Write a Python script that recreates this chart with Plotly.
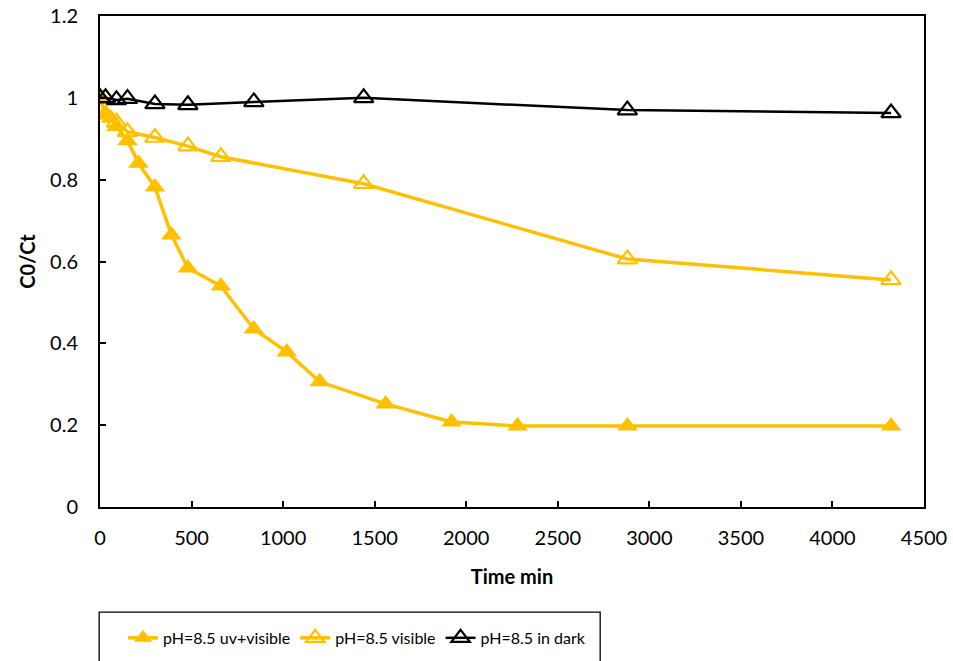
import plotly.graph_objects as go

# Data
t_uv = [0, 30, 60, 90, 150, 210, 300, 390, 480, 660, 840, 1020, 1200, 1560, 1920, 2280, 2880, 4320]
c_uv = [1.0, 0.96, 0.95, 0.93, 0.895, 0.84, 0.782, 0.665, 0.584, 0.54, 0.435, 0.379, 0.306, 0.252, 0.208, 0.198, 0.198, 0.198]

t_vis = [0, 30, 90, 150, 300, 480, 660, 1440, 2880, 4320]
c_vis = [1.0, 0.96, 0.94, 0.917, 0.903, 0.882, 0.856, 0.79, 0.606, 0.555]

t_dark = [0, 30, 90, 150, 300, 480, 840, 1440, 2880, 4320]
c_dark = [1.0, 1.0, 0.995, 0.998, 0.985, 0.983, 0.99, 1.0, 0.97, 0.963]

names = ["pH=8.5 uv+visible", "pH=8.5 visible", "pH=8.5 in dark"]
x_ticks = list(range(0, 4501, 500))
y_ticks = [0, 0.2, 0.4, 0.6, 0.8, 1, 1.2]

YEL = "#FFC000"
FONT = "Lato"

fig = go.Figure()
fig.add_trace(go.Scatter(x=t_uv, y=c_uv, name=names[0], mode="lines+markers",
                         line=dict(color=YEL, width=3.5),
                         marker=dict(symbol="triangle-up", size=18, color=YEL)))
fig.add_trace(go.Scatter(x=t_vis, y=c_vis, name=names[1], mode="lines+markers",
                         line=dict(color=YEL, width=3.5),
                         marker=dict(symbol="triangle-up-open", size=17, color=YEL,
                                     line=dict(color=YEL, width=2.2))))
fig.add_trace(go.Scatter(x=t_dark, y=c_dark, name=names[2], mode="lines+markers",
                         line=dict(color="black", width=2.5),
                         marker=dict(symbol="triangle-up-open", size=17, color="black",
                                     line=dict(color="black", width=2.2))))

fig.update_layout(
    width=953, height=661,
    margin=dict(l=100, r=29, t=16, b=154, autoexpand=False),
    plot_bgcolor="white", paper_bgcolor="white",
    font=dict(family=FONT, size=20, color="black"),
    showlegend=True,
    legend=dict(orientation="h", x=0.028, xanchor="left", y=-0.232, yanchor="top",
                font=dict(family=FONT, size=16),
                bgcolor="rgba(0,0,0,0)", borderwidth=0, itemwidth=30,
                tracegroupgap=0),
    shapes=[dict(type="rect", xref="paper", yref="paper",
                 x0=-0.001, x1=0.607, y0=-0.214, y1=-0.40,
                 line=dict(color="black", width=1.3), fillcolor="rgba(0,0,0,0)")],
)
fig.update_xaxes(range=[0, 4500], tickvals=x_ticks, ticks="inside", ticklen=6,
                 tickwidth=1.5, tickcolor="black", showline=True, linecolor="black",
                 linewidth=2, mirror=True, showgrid=False, zeroline=False,
                 ticklabelstandoff=12,
                 title=dict(text="<b>Time min</b>", font=dict(size=20), standoff=22))
fig.update_yaxes(range=[0, 1.2], tickvals=y_ticks, ticks="inside", ticklen=6,
                 tickwidth=1.5, tickcolor="black", showline=True, linecolor="black",
                 linewidth=2, mirror=True, showgrid=False, zeroline=False,
                 ticklabelstandoff=16,
                 title=dict(text="<b>C0/Ct</b>", font=dict(size=20), standoff=9))

fig.write_html("out.html")
